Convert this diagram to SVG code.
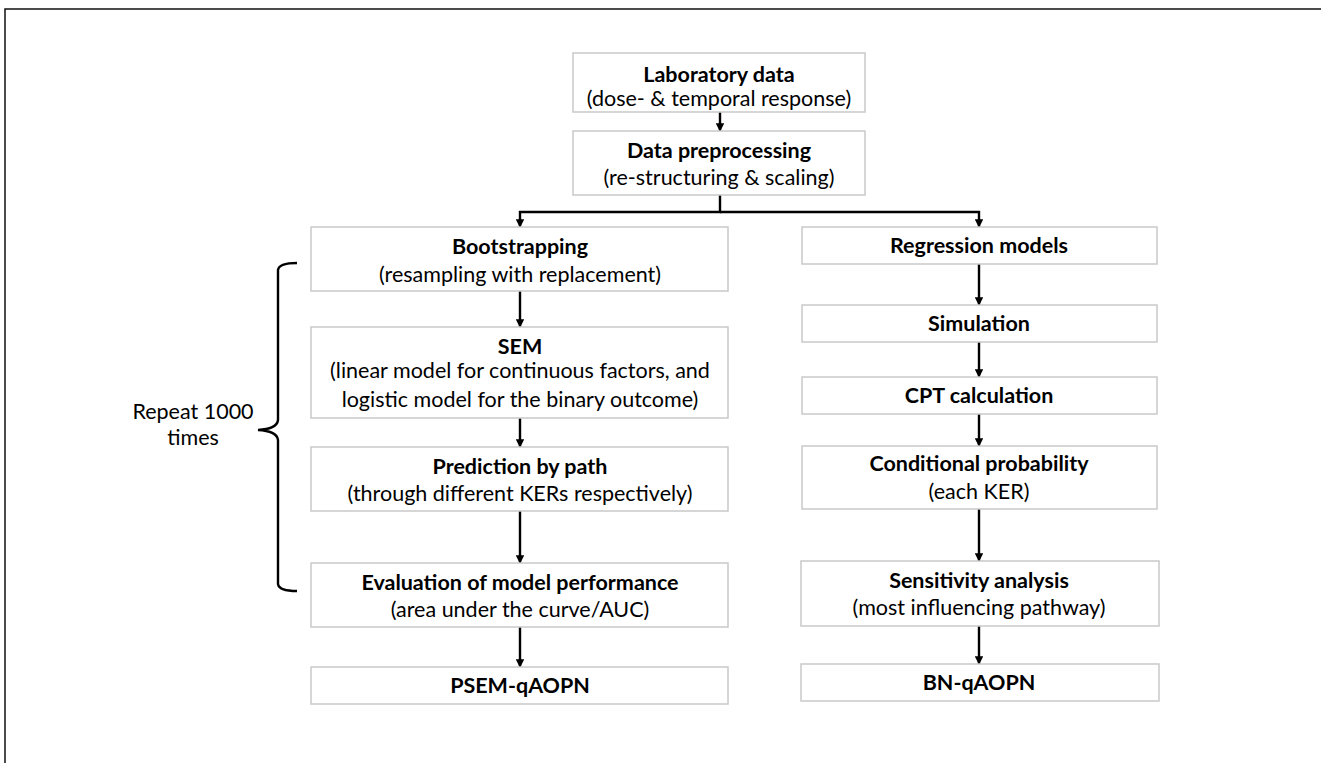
<svg xmlns="http://www.w3.org/2000/svg" width="1321" height="763" viewBox="0 0 1321 763">
<defs>
<style>
.box{fill:#fff;stroke:#c9c9c9;stroke-width:1.5}
.t{font-family:Lato,"Open Sans",sans-serif;font-size:21.5px;fill:#000;text-anchor:middle}
.b{font-weight:bold}
.c{fill:none;stroke:#000;stroke-width:2.4}
</style>
<marker id="ah" viewBox="0 0 10 10" refX="9" refY="5" markerWidth="3.6" markerHeight="3.6" orient="auto" markerUnits="strokeWidth">
<path d="M0,0 L10,5 L0,10 z" fill="#000"/>
</marker>
</defs>
<rect width="1321" height="763" fill="#fff"/>
<path d="M1321,9 H5 V763" fill="none" stroke="#111" stroke-width="1.5"/>
<g id="connectors">
<path class="c" d="M720,112 V131" marker-end="url(#ah)"/>
<path class="c" d="M720,195 V212 H520 V227" marker-end="url(#ah)"/>
<path class="c" d="M720,212 H979 V227" marker-end="url(#ah)"/>
<path class="c" d="M520,291 V327" marker-end="url(#ah)"/>
<path class="c" d="M520,418 V447" marker-end="url(#ah)"/>
<path class="c" d="M520,511 V563" marker-end="url(#ah)"/>
<path class="c" d="M520,627 V667" marker-end="url(#ah)"/>
<path class="c" d="M979,264 V305" marker-end="url(#ah)"/>
<path class="c" d="M979,342 V377" marker-end="url(#ah)"/>
<path class="c" d="M979,414 V446" marker-end="url(#ah)"/>
<path class="c" d="M979,509 V561" marker-end="url(#ah)"/>
<path class="c" d="M979,626 V664" marker-end="url(#ah)"/>
</g>
<g id="lab"><rect class="box" x="573" y="53" width="292" height="59"/>
<text class="t b" x="719" y="82">Laboratory data</text>
<text class="t" x="719" y="106">(dose- &amp; temporal response)</text></g>
<g id="prep"><rect class="box" x="573" y="131" width="292" height="64"/>
<text class="t b" x="719" y="158">Data preprocessing</text>
<text class="t" x="719" y="185">(re-structuring &amp; scaling)</text></g>
<g id="boot"><rect class="box" x="311" y="227" width="417" height="64"/>
<text class="t b" x="520" y="254">Bootstrapping</text>
<text class="t" x="520" y="282">(resampling with replacement)</text></g>
<g id="sem"><rect class="box" x="311" y="327" width="417" height="91"/>
<text class="t b" x="520" y="354">SEM</text>
<text class="t" x="520" y="378">(linear model for continuous factors, and</text>
<text class="t" x="520" y="407">logistic model for the binary outcome)</text></g>
<g id="pred"><rect class="box" x="311" y="447" width="417" height="64"/>
<text class="t b" x="520" y="474">Prediction by path</text>
<text class="t" x="520" y="501">(through different KERs respectively)</text></g>
<g id="eval"><rect class="box" x="311" y="563" width="417" height="64"/>
<text class="t b" x="520" y="590">Evaluation of model performance</text>
<text class="t" x="520" y="617">(area under the curve/AUC)</text></g>
<g id="psem"><rect class="box" x="311" y="667" width="417" height="37"/>
<text class="t b" x="520" y="693">PSEM-qAOPN</text></g>
<g id="reg"><rect class="box" x="802" y="227" width="355" height="37"/>
<text class="t b" x="979" y="253">Regression models</text></g>
<g id="sim"><rect class="box" x="802" y="305" width="355" height="37"/>
<text class="t b" x="979" y="331">Simulation</text></g>
<g id="cpt"><rect class="box" x="802" y="377" width="355" height="37"/>
<text class="t b" x="979" y="403">CPT calculation</text></g>
<g id="cond"><rect class="box" x="802" y="446" width="355" height="63"/>
<text class="t b" x="979" y="471">Conditional probability</text>
<text class="t" x="979" y="499">(each KER)</text></g>
<g id="sens"><rect class="box" x="801" y="561" width="358" height="65"/>
<text class="t b" x="979" y="588">Sensitivity analysis</text>
<text class="t" x="979" y="615">(most influencing pathway)</text></g>
<g id="bn"><rect class="box" x="801" y="664" width="358" height="37"/>
<text class="t b" x="979" y="690">BN-qAOPN</text></g>
<g id="repeat">
<path d="M297,263 Q279,263 278,270 V420 Q277,429 258,430 Q277,431 278,440 V584 Q279,591 297,591" fill="none" stroke="#000" stroke-width="2.4"/>
<text class="t" x="193" y="419">Repeat 1000</text>
<text class="t" x="193" y="445">times</text>
</g>
</svg>
